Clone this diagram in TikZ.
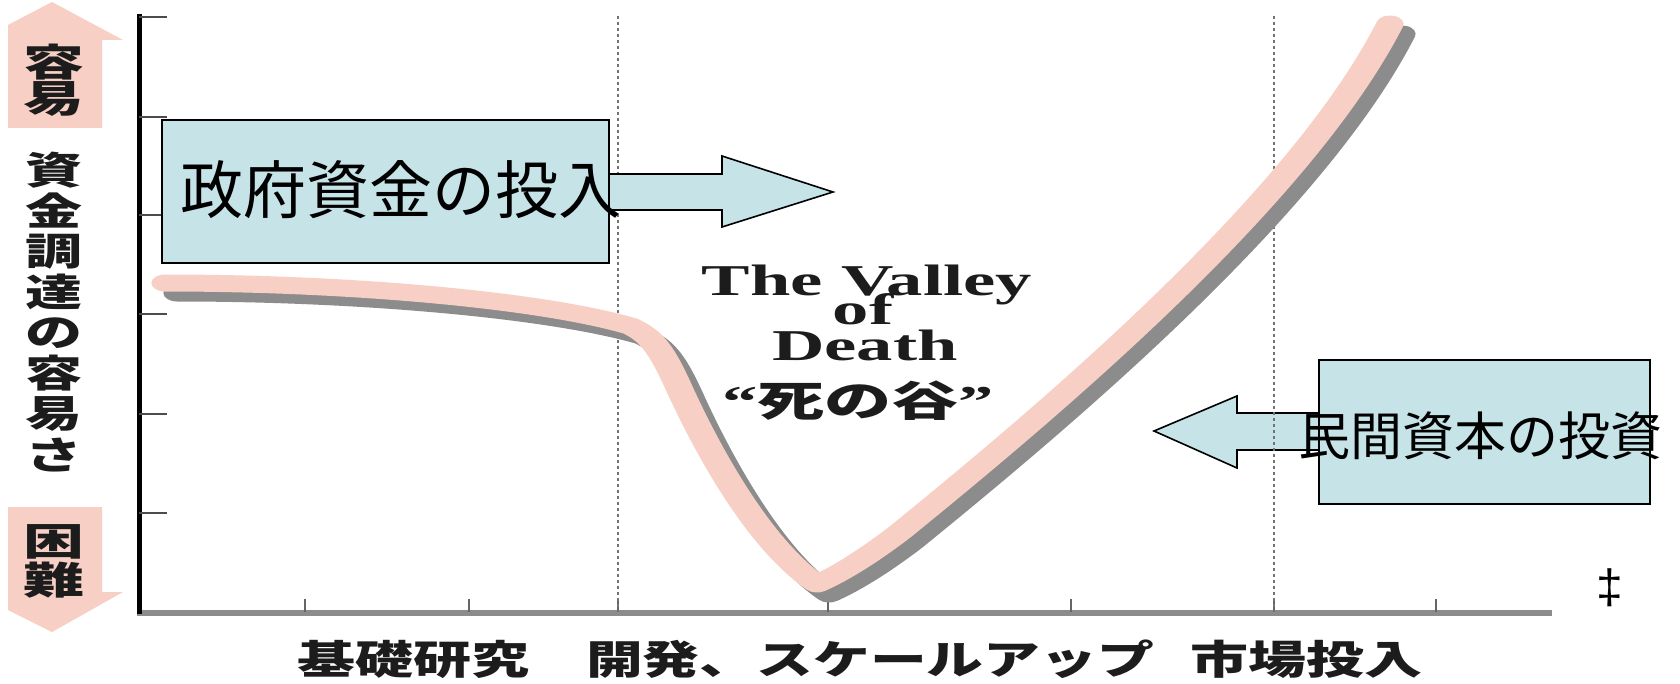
\documentclass[tikz,border=0pt]{standalone}
\usepackage{fontspec}
\setmainfont{Liberation Serif}
\newfontfamily\jp{Noto Sans CJK JP}
\newfontfamily\lsans{Liberation Sans}
\definecolor{pinkc}{RGB}{247,207,197}
\definecolor{shadowc}{RGB}{140,140,140}
\definecolor{boxc}{RGB}{198,228,232}
\definecolor{txtc}{RGB}{28,28,28}
\begin{document}
\begin{tikzpicture}[x=0.5pt,y=-0.5pt,
  boxst/.style={draw=black, line width=1pt, fill=boxc, inner sep=0pt},
  blockarrow/.style={draw=black, line width=0.8pt, fill=boxc, line join=miter},
  pinkarrow/.style={fill=pinkc, draw=none},
  ytickst/.style={draw=black!70, line width=1pt},
  xtickst/.style={draw=black!60, line width=1pt},
  guide/.style={draw=black!55, line width=1.3pt, dash pattern=on 1.5pt off 1.5pt},
  chartjp/.style={text=txtc, inner sep=0pt, font=\jp\bfseries\fontsize{19pt}{19pt}\selectfont},
  axisjp/.style={text=txtc, inner sep=0pt, anchor=base, font=\jp\bfseries\fontsize{20pt}{20pt}\selectfont},
  valley/.style={text=txtc, inner sep=0pt, anchor=base, font=\bfseries\fontsize{22pt}{22pt}\selectfont},
  boxtext/.style={text=black, inner sep=0pt, anchor=base},
  pinkline/.style={draw=pinkc, line width=8.5pt, line cap=round, line join=round},
  shadowline/.style={draw=shadowc, line width=8.5pt, line cap=round, line join=round}
]
\fill[white] (0,0) rectangle (1680,684);
\useasboundingbox (0,0) rectangle (1680,684);

% pink direction arrows on the left
\fill[pinkarrow] (8,128) -- (8,25) -- (52,2) -- (123,40) -- (102,40) -- (102,128) -- cycle;
\fill[pinkarrow] (8,507) -- (102,507) -- (102,592) -- (123,592) -- (52,632) -- (8,610) -- cycle;
\node[chartjp] (easyA) at (54,62) {\scalebox{1.6}[1]{容}};
\node[chartjp] (easyB) at (54,99) {\scalebox{1.6}[1]{易}};
\node[chartjp] (hardA) at (54,542) {\scalebox{1.6}[1]{困}};
\node[chartjp] (hardB) at (54,580) {\scalebox{1.6}[1]{難}};

% vertical axis label
\foreach \c [count=\i from 0] in {資,金,調,達,の,容,易,さ}
  \node[chartjp] (lab\i) at (54,{170+40.7*\i}) {\scalebox{1.5}[1]{\c}};

% private investment arrow (under the dotted guide)
\draw[blockarrow] (1319,413) -- (1237,413) -- (1237,396) -- (1154,431) -- (1237,468) -- (1237,450) -- (1319,450) -- cycle;

% axes
\draw[line width=3pt, black!45] (137,613) -- (1552,613);
\draw[line width=2.5pt, black] (139,14) -- (139,614);
\foreach \y in {17,117,215,314,414,513}
  \draw[ytickst] (139,\y) -- (167,\y);
\foreach \x in {305,469,618,828,1071,1274,1436}
  \draw[xtickst] (\x,612) -- (\x,599);
\draw[guide] (618,16) -- (618,612);
\draw[guide] (1274,16) -- (1274,612);

% the valley curve (horizontally stretched like the original raster)
\def\valleypath{(165/1.6,283) .. controls (350/1.6,283) and (540/1.6,300) .. (630/1.6,326)
    .. controls (652/1.6,336) and (662/1.6,350) .. (680/1.6,390)
    .. controls (710/1.6,455) and (760/1.6,545) .. (817/1.6,584)
    .. controls (840/1.6,574) and (870/1.6,555) .. (900/1.6,532)
    .. controls (1050/1.6,410) and (1300/1.6,200) .. (1390/1.6,24)}
\begin{scope}[transform canvas={xscale=1.6}]
  \draw[shadowline, shift={(7.5,10)}] \valleypath;
  \draw[pinkline] \valleypath;
\end{scope}

% valley caption
\node[valley] (vA) at (867,295) {\scalebox{1.65}[1]{The Valley}};
\node[valley] (vB) at (863,324) {\scalebox{1.65}[1]{of}};
\node[valley] (vC) at (865,360) {\scalebox{1.65}[1]{Death}};
\node[valley] (vD) at (858,416) {\scalebox{1.6}[1]{“{\jp\bfseries\fontsize{21pt}{21pt}\selectfont 死の谷}”}};

% x-axis labels
\node[axisjp] (xA) at (413,674) {\scalebox{1.45}[1]{基礎研究}};
\node[axisjp] (xB) at (870,674) {\scalebox{1.42}[1]{開発、スケールアップ}};
\node[axisjp] (xC) at (1306,674) {\scalebox{1.45}[1]{市場投入}};

% government funding box and arrow
\draw[blockarrow] (609,174) -- (722,174) -- (722,156) -- (833,192) -- (722,227) -- (722,210) -- (609,210) -- cycle;
\node[boxst, minimum width=223.5pt, minimum height=71.5pt] (gov) at (385.5,191.5) {};
\node[boxtext, font=\jp\fontsize{31.5pt}{31.5pt}\selectfont] (govt) at (401,214) {政府資金の投入};

% private capital box
\node[boxst, minimum width=165.5pt, minimum height=72pt] (pri) at (1484.5,432) {};
\node[boxtext, font=\jp\fontsize{26pt}{26pt}\selectfont] (prit) at (1480,455) {民間資本の投資};

% double dagger
\node[inner sep=0pt, font=\lsans\fontsize{24pt}{24pt}\selectfont] (dd) at (1610,588) {‡};
\end{tikzpicture}
\end{document}
